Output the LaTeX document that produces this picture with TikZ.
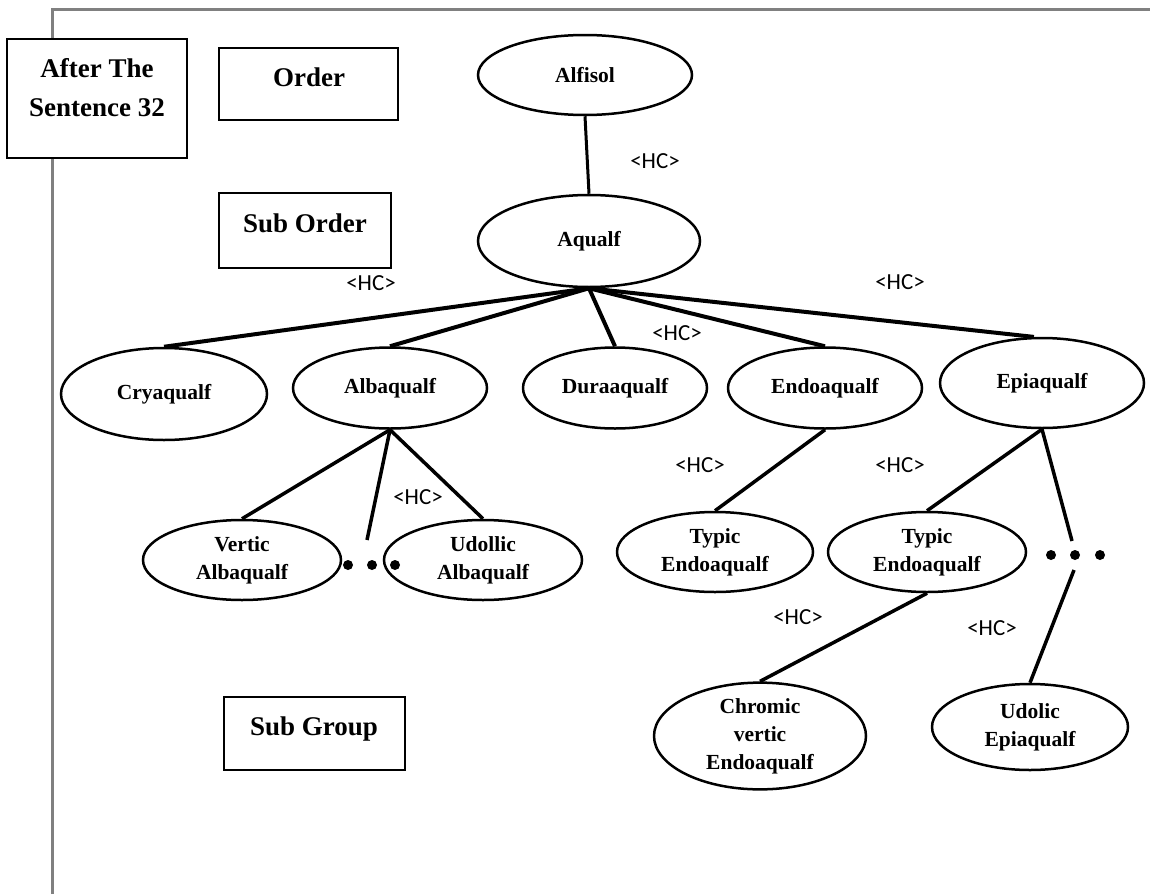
\documentclass[tikz,border=0pt]{standalone}
\usepackage{fontspec}
\setmainfont{Liberation Serif}
\newfontfamily\hcfont{Carlito}
\usetikzlibrary{shapes.geometric}
\begin{document}
\begin{tikzpicture}[x=0.5pt,y=-0.5pt,
  soil/.style={ellipse, draw, line width=1.25pt, inner sep=0pt, align=center,
    fill=white, font=\bfseries\fontsize{10.75}{14}\selectfont},
  levelbox/.style={rectangle, draw, line width=1pt, fill=white, inner sep=0pt},
  leveltext/.style={inner sep=0pt, align=center,
    font=\bfseries\fontsize{13.5}{19.5}\selectfont},
  hc/.style={inner sep=0pt, font=\hcfont\fontsize{11.5}{12}\selectfont},
  fan/.style={line width=2pt},
  link/.style={line width=1.75pt},
  dotmark/.style={circle, fill=black, draw=none, inner sep=0pt, minimum size=5pt},
  frameline/.style={draw=black!50, line width=1.5pt}
]
\useasboundingbox (0,0) rectangle (1150,894);
\fill[white] (0,0) rectangle (1150,894);

% page frame
\draw[frameline] (52,894) -- (52,9) -- (1150,9);

% level boxes
\node[levelbox, minimum width=90pt, minimum height=59.5pt] (afterbox) at (97,98.5) {};
\node[leveltext] (aftertext) at (97,87.5) {After The\\Sentence 32};
\node[levelbox, minimum width=89.5pt, minimum height=36pt] (orderbox) at (308.5,84) {};
\node[leveltext] (ordertext) at (309,77) {Order};
\node[levelbox, minimum width=86pt, minimum height=37.5pt] (suborderbox) at (305,230.5) {};
\node[leveltext] (subordertext) at (305,223) {Sub Order};
\node[levelbox, minimum width=90.5pt, minimum height=36.5pt] (subgroupbox) at (314.5,733.5) {};
\node[leveltext] (subgrouptext) at (314,729) {Sub Group};

% soil classes
\node[soil, minimum width=107pt, minimum height=40pt] (alfisol) at (585,75) {Alfisol};
\node[soil, minimum width=111pt, minimum height=46pt] (aqualf) at (589,241) {Aqualf};
\node[soil, minimum width=103pt, minimum height=46pt] (cry) at (164,394) {Cryaqualf};
\node[soil, minimum width=97pt, minimum height=40.5pt] (alba) at (390,388) {Albaqualf};
\node[soil, minimum width=92pt, minimum height=40.5pt] (dura) at (615,388) {Duraaqualf};
\node[soil, minimum width=97pt, minimum height=40.5pt] (endo) at (825,388) {Endoaqualf};
\node[soil, minimum width=102pt, minimum height=45pt] (epi) at (1042,383) {Epiaqualf};
\node[soil, minimum width=99pt, minimum height=40pt] (vertic) at (242,560) {Vertic\\Albaqualf};
\node[soil, minimum width=99pt, minimum height=40pt] (udollic) at (483,560) {Udollic\\Albaqualf};
\node[soil, minimum width=98pt, minimum height=40pt] (typicA) at (715,552) {Typic\\Endoaqualf};
\node[soil, minimum width=99pt, minimum height=40pt] (typicB) at (927,552) {Typic\\Endoaqualf};
\node[soil, minimum width=106pt, minimum height=52pt] (chromic) at (760,736) {Chromic\\vertic\\Endoaqualf};
\node[soil, minimum width=98pt, minimum height=43pt] (udolic) at (1030,727) {Udolic\\Epiaqualf};

% free ends beside the ellipsis marks
\coordinate (albamore) at (367,540);
\coordinate (epimoreA) at (1072,541);
\coordinate (epimoreB) at (1074,570);

% connectors
\draw[link, line width=1.5pt] (alfisol.south) -- (aqualf.north);
\draw[fan] (aqualf.south) -- (cry.north);
\draw[fan] (aqualf.south) -- (alba.north);
\draw[fan] (aqualf.south) -- (dura.north);
\draw[fan] (aqualf.south) -- (endo.north);
\draw[fan] (aqualf.south) -- (epi.100);
\draw[link] (alba.south) -- (vertic.north);
\draw[link] (alba.south) -- (albamore);
\draw[link] (alba.south) -- (udollic.north);
\draw[link] (endo.south) -- (typicA.north);
\draw[link] (epi.south) -- (typicB.north);
\draw[link] (epi.south) -- (epimoreA);
\draw[link] (epimoreB) -- (udolic.north);
\draw[link] (typicB.south) -- (chromic.north);

% ellipsis marks
\node[dotmark] (albadotA) at (348,565) {};
\node[dotmark] (albadotB) at (372,565) {};
\node[dotmark] (albadotC) at (395,565) {};
\node[dotmark] (epidotA) at (1051,555) {};
\node[dotmark] (epidotB) at (1075,555) {};
\node[dotmark] (epidotC) at (1100,555) {};

% hierarchy-code labels
\node[hc] (hcA) at (655,161) {<HC>};
\node[hc] (hcB) at (371,283) {<HC>};
\node[hc] (hcC) at (900,282) {<HC>};
\node[hc] (hcD) at (677,333) {<HC>};
\node[hc] (hcE) at (418,497) {<HC>};
\node[hc] (hcF) at (700,465) {<HC>};
\node[hc] (hcG) at (900,465) {<HC>};
\node[hc] (hcH) at (798,617) {<HC>};
\node[hc] (hcI) at (992,628) {<HC>};
\end{tikzpicture}
\end{document}
